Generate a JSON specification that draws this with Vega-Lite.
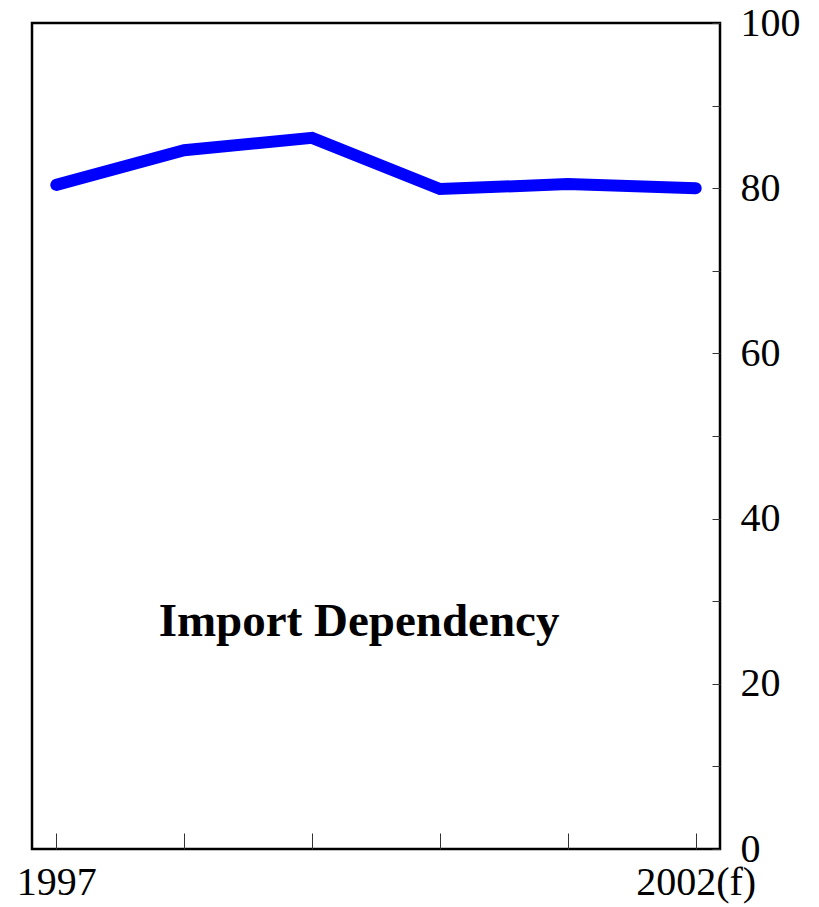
{
  "$schema": "https://vega.github.io/schema/vega-lite/v6.json",
  "width": 688,
  "height": 826,
  "autosize": "none",
  "padding": {"left": 32, "top": 23, "right": 99, "bottom": 58},
  "background": "white",
  "config": {
    "view": {"stroke": "black", "strokeWidth": 2.5},
    "font": "Liberation Serif"
  },
  "datasets": {
    "series": [
      {"year": "1997", "value": 80.4},
      {"year": "1998", "value": 84.6},
      {"year": "1999", "value": 86.1},
      {"year": "2000", "value": 79.9},
      {"year": "2001", "value": 80.5},
      {"year": "2002(f)", "value": 80.0}
    ],
    "note": [{"year": "1999", "value": 27.5, "label": "Import Dependency"}]
  },
  "layer": [
    {
      "data": {"name": "series"},
      "mark": {"type": "line", "color": "#0000FF", "strokeWidth": 12, "strokeCap": "round", "strokeJoin": "miter"},
      "encoding": {
        "x": {
          "field": "year", "type": "ordinal", "sort": null,
          "scale": {"type": "point", "padding": 0.19},
          "axis": {
            "title": null, "domain": false, "labelAngle": 0,
            "tickSize": -16, "tickColor": "#333333", "tickWidth": 1,
            "labelFont": "Liberation Serif", "labelFontSize": 40, "labelColor": "black",
            "labelPadding": 29, "labelOverlap": false, "labelBound": false, "labelFlush": false,
            "labelExpr": "datum.value == '1997' || datum.value == '2002(f)' ? datum.label : ''"
          }
        },
        "y": {
          "field": "value", "type": "quantitative",
          "scale": {"domain": [0, 100], "nice": false, "zero": true},
          "axis": {
            "orient": "right", "title": null, "domain": false, "grid": false,
            "values": [0, 10, 20, 30, 40, 50, 60, 70, 80, 90, 100],
            "tickSize": -8, "tickColor": "#333333", "tickWidth": 1,
            "labelFont": "Liberation Serif", "labelFontSize": 40, "labelColor": "black",
            "labelPadding": 28, "labelOverlap": false, "labelBound": false, "labelFlush": false,
            "labelExpr": "datum.value % 20 == 0 ? datum.label : ''"
          }
        }
      }
    },
    {
      "data": {"name": "note"},
      "mark": {"type": "text", "font": "Liberation Serif", "fontWeight": "bold", "fontSize": 47, "dx": 47, "align": "center", "baseline": "middle", "color": "black"},
      "encoding": {
        "x": {"field": "year", "type": "ordinal"},
        "y": {"field": "value", "type": "quantitative"},
        "text": {"field": "label"}
      }
    }
  ]
}
